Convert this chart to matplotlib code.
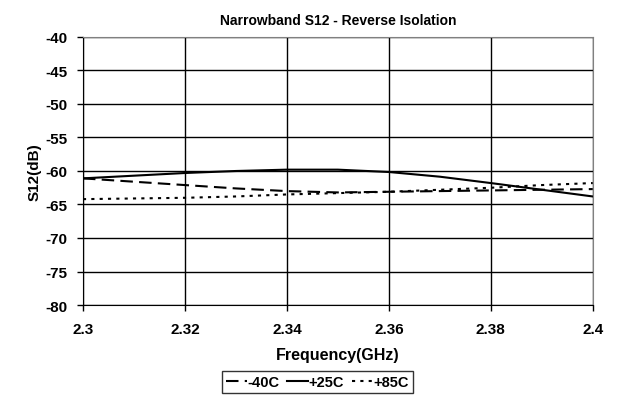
import numpy as np
import matplotlib
matplotlib.use("Agg")
import matplotlib.pyplot as plt

plt.rcParams["font.family"] = "Liberation Sans"
plt.rcParams["font.weight"] = "bold"
plt.rcParams["axes.unicode_minus"] = False

freq = [2.30, 2.31, 2.32, 2.33, 2.34, 2.35, 2.36, 2.37, 2.38, 2.39, 2.40]
s12_m40 = [-61.1, -61.6, -62.1, -62.6, -63.0, -63.2, -63.1, -63.0, -62.9, -62.8, -62.7]
s12_p25 = [-61.1, -60.7, -60.3, -60.0, -59.8, -59.8, -60.15, -60.85, -61.8, -62.8, -63.8]
s12_p85 = [-64.2, -64.1, -64.0, -63.8, -63.5, -63.3, -63.1, -62.8, -62.5, -62.1, -61.8]

x_ticks = [2.3, 2.32, 2.34, 2.36, 2.38, 2.4]
x_labels = ["2.3", "2.32", "2.34", "2.36", "2.38", "2.4"]
y_ticks = [-80, -75, -70, -65, -60, -55, -50, -45, -40]
y_labels = [str(v) for v in y_ticks]

fig = plt.figure(figsize=(6.22, 4.02), dpi=100)
ax = fig.add_axes([0.1334, 0.2388, 0.8196, 0.6667])

ax.plot(freq, s12_m40, color="black", lw=1.5, dashes=(6, 3), label="-40C")
ax.plot(freq, s12_p25, color="black", lw=1.5, label="+25C")
ax.plot(freq, s12_p85, color="black", lw=1.5, dashes=(1.5, 2.5), label="+85C")

ax.set_xlim(2.3, 2.4)
ax.set_ylim(-80, -40)
ax.set_xticks(x_ticks)
ax.set_xticklabels(x_labels, fontweight="bold", fontsize=11)
ax.set_yticks(y_ticks)
ax.set_yticklabels(y_labels, fontweight="bold", fontsize=11)
ax.grid(True, color="black", lw=1)
ax.set_axisbelow(True)
ax.tick_params(axis="y", length=4, width=1, direction="out", pad=7)
ax.tick_params(axis="x", length=4, width=1, direction="out", pad=8)

for side in ["top", "right"]:
    ax.spines[side].set_color("#808080")
for side in ["left", "bottom"]:
    ax.spines[side].set_color("black")

ax.set_title("Narrowband S12 - Reverse Isolation", fontsize=10, fontweight="bold", pad=9)
ax.set_xlabel("Frequency(GHz)", fontsize=11.5, fontweight="bold", labelpad=8)
ax.set_ylabel("S12(dB)", fontsize=11, fontweight="bold", labelpad=3)

leg = ax.legend(loc="upper center", bbox_to_anchor=(0.46, -0.245), ncol=3,
                frameon=True, fancybox=False, edgecolor="black",
                prop={"size": 10.5, "weight": "bold"}, handlelength=1.4,
                handletextpad=0.05, columnspacing=0.55, borderpad=0.3,
                borderaxespad=0)
leg.get_frame().set_linewidth(1)

fig.savefig("out.png", dpi=100)
